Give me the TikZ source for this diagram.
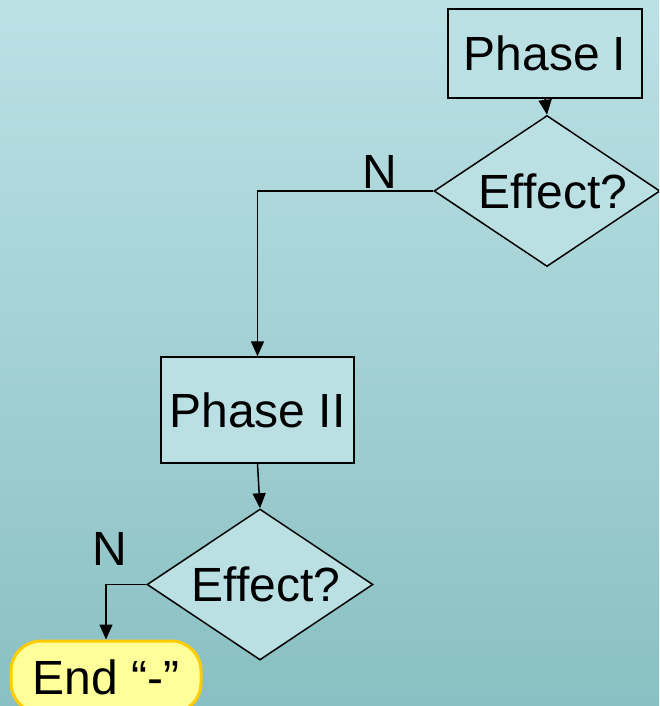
\documentclass[tikz,border=0pt]{standalone}
\usepackage{fontspec}
\setmainfont{Liberation Sans}
\usetikzlibrary{shapes.geometric,arrows.meta}
\definecolor{bgtop}{RGB}{187,225,229}
\definecolor{bgbot}{RGB}{138,192,195}
\definecolor{boxfill}{RGB}{186,224,228}
\definecolor{endfill}{RGB}{255,255,153}
\definecolor{endline}{RGB}{255,204,0}
\begin{document}
\begin{tikzpicture}[x=1pt,y=-1pt,
  every node/.style={font=\fontsize{48}{52}\selectfont, inner sep=0pt},
  procbox/.style={draw, line width=1.5pt, fill=boxfill, rectangle},
  decbox/.style={draw, line width=1.5pt, fill=boxfill, diamond, aspect=1.5, minimum width=226pt, minimum height=151pt},
  endbox/.style={draw=endline, line width=3pt, fill=endfill, rectangle, rounded corners=30pt, minimum width=190pt, minimum height=72pt},
  arr/.style={line width=1.5pt, -{Triangle[length=15pt,width=13pt]}}]
\path[use as bounding box] (0,0) rectangle (659,706);
\clip (0,0) rectangle (659,706);
\shade[top color=bgtop, bottom color=bgbot] (0,0) rectangle (659,706);

\node[procbox, minimum width=194pt, minimum height=89pt] (p1) at (545,53.5) {Phase I};
\node[decbox] (d1) at (547,191) {\hspace*{12pt}Effect?};
\node[procbox, minimum width=193pt, minimum height=106pt] (p2) at (257.5,410) {Phase II};
\node[decbox] (d2) at (260,584.5) {\hspace*{12pt}Effect?};
\node[endbox] (e) at (106,677) {End “-”};

\node (n1) at (380,172) {N};
\node (n2) at (110,549) {N};

\draw[arr] (p1.south) -- (d1.north);
\draw[arr] (d1.west) -| (p2.north);
\draw[arr] (p2.south) -- (d2.north);
\draw[arr] (d2.west) -| (e.north);
\end{tikzpicture}
\end{document}
